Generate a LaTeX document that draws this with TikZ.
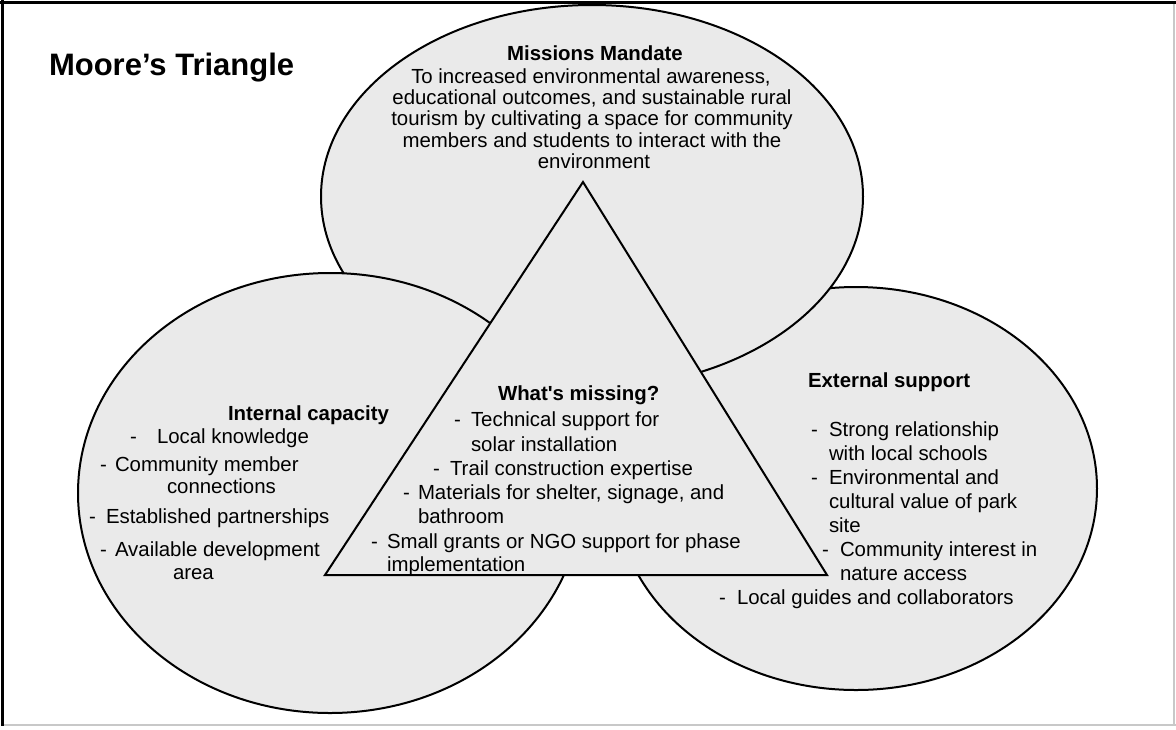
\documentclass[tikz,border=0pt]{standalone}
\usepackage{fontspec}
\setmainfont{Liberation Sans}[Ligatures=TeXOff]
\usetikzlibrary{shapes.geometric}
\definecolor{fillgray}{RGB}{234,234,234}
\definecolor{edgegray}{RGB}{200,200,200}
\begin{document}
\begin{tikzpicture}[x=1pt,y=-1pt,
  blob/.style={ellipse, draw=black, line width=2pt, fill=fillgray, inner sep=0pt, outer sep=0pt},
  tri/.style={draw=black, line width=2pt, fill=fillgray, line join=miter},
  txt/.style={inner sep=0pt, outer sep=0pt, anchor=base west, font=\fontsize{20.4}{24}\selectfont},
  ctr/.style={txt, anchor=base},
  hd/.style={txt, font=\fontsize{20.4}{24}\selectfont\bfseries},
  hdc/.style={hd, anchor=base},
  frameblack/.style={line width=3pt, black},
  framegray/.style={line width=2.5pt, edgegray}]
\useasboundingbox (0,0) rectangle (1176,729);
\fill[white] (0,0) rectangle (1176,729);
% frame
\draw[framegray] (2,725) -- (1176,725);
\draw[framegray] (1174,2) -- (1174,725);
\draw[frameblack] (0,2) -- (1176,2);
\draw[frameblack] (2,0) -- (2,726);
% title
\node[txt, font=\fontsize{31}{36}\selectfont\bfseries] (title) at (49,75) {Moore’s Triangle};
% circles
\node[blob, minimum width=482pt, minimum height=403pt] (ext) at (856,488.5) {};
\node[blob, minimum width=542pt, minimum height=383pt] (mis) at (592,196.5) {};
\node[blob, minimum width=504pt, minimum height=440pt] (int) at (330,493) {};
% triangle
\coordinate (apex) at (583,182);
\coordinate (bl) at (325,575);
\coordinate (br) at (827,575);
\draw[tri] (apex) -- (bl) -- (br) -- cycle;
% mission text
\node[hdc] (mish) at (595,60) {Missions Mandate};
\node[ctr] (mis1) at (591,83) {To increased environmental awareness,};
\node[ctr] (mis2) at (592,104) {educational outcomes, and sustainable rural};
\node[ctr] (mis3) at (592,125) {tourism by cultivating a space for community};
\node[ctr] (mis4) at (592,147) {members and students to interact with the};
\node[ctr] (mis5) at (594,168) {environment};
% internal capacity
\node[hd] (inth) at (228,420) {Internal capacity};
\node[txt] (intd1) at (130,443) {-};
\node[txt] (int1) at (157,443) {Local knowledge};
\node[txt] (intd2) at (100,471) {-};
\node[txt] (int2) at (115,471) {Community member};
\node[txt] (int2b) at (167,493) {connections};
\node[txt] (intd3) at (89,523) {-};
\node[txt] (int3) at (106,523) {Established partnerships};
\node[txt] (intd4) at (100,556) {-};
\node[txt] (int4) at (115,556) {Available development};
\node[txt] (int4b) at (173,579) {area};
% what's missing
\node[hd] (wmh) at (498,400) {What's missing?};
\node[txt] (wmd1) at (454,426) {-};
\node[txt] (wm1) at (471,426) {Technical support for};
\node[txt] (wm1b) at (471,451) {solar installation};
\node[txt] (wmd2) at (433,475) {-};
\node[txt] (wm2) at (450,475) {Trail construction expertise};
\node[txt] (wmd3) at (403,499) {-};
\node[txt] (wm3) at (418,499) {Materials for shelter, signage, and};
\node[txt] (wm3b) at (418,523) {bathroom};
\node[txt] (wmd4) at (371,548) {-};
\node[txt] (wm4) at (387,548) {Small grants or NGO support for phase};
\node[txt] (wm4b) at (387,571) {implementation};
% external support
\node[hd] (exth) at (808,387) {External support};
\node[txt] (extd1) at (811,436) {-};
\node[txt] (ext1) at (829,436) {Strong relationship};
\node[txt] (ext1b) at (829,460) {with local schools};
\node[txt] (extd2) at (811,484) {-};
\node[txt] (ext2) at (829,484) {Environmental and};
\node[txt] (ext2b) at (829,508) {cultural value of park};
\node[txt] (ext2c) at (829,532) {site};
\node[txt] (extd3) at (822,556) {-};
\node[txt] (ext3) at (840,556) {Community interest in};
\node[txt] (ext3b) at (840,580) {nature access};
\node[txt] (extd4) at (719,604) {-};
\node[txt] (ext4) at (737,604) {Local guides and collaborators};
\end{tikzpicture}
\end{document}
